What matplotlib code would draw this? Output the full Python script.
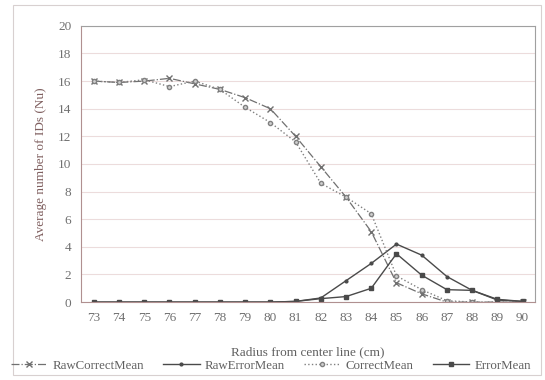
import numpy as np
import matplotlib
matplotlib.use('Agg')
from matplotlib import pyplot as plt
from matplotlib.patches import Rectangle

radius = [73, 74, 75, 76, 77, 78, 79, 80, 81, 82, 83, 84, 85, 86, 87, 88, 89, 90]
raw_correct_mean = [16.0, 15.9, 16.0, 16.2, 15.8, 15.4, 14.8, 14.0, 12.0, 9.8, 7.6, 5.1, 1.4, 0.6, 0.0, 0.0, 0.0, 0.0]
correct_mean = [16.0, 15.9, 16.1, 15.6, 16.0, 15.4, 14.1, 13.0, 11.6, 8.6, 7.6, 6.4, 1.9, 0.9, 0.1, 0.0, 0.0, 0.0]
raw_error_mean = [0, 0, 0, 0, 0, 0, 0, 0, 0.05, 0.3, 1.55, 2.8, 4.2, 3.4, 1.85, 0.85, 0.15, 0.05]
error_mean = [0, 0, 0, 0, 0, 0, 0, 0, 0.05, 0.25, 0.4, 1.0, 3.5, 1.95, 0.9, 0.85, 0.2, 0.05]

plt.rcParams['font.family'] = ['Liberation Serif', 'DejaVu Serif']

fig = plt.figure(figsize=(5.45, 3.8), dpi=100)
ax = fig.add_axes([0.149, 0.205, 0.833, 0.727])

# okvir oko celog grafika
fig.patches.append(Rectangle((0.024, 0.012), 0.968, 0.975, transform=fig.transFigure,
                             fill=False, edgecolor='#d8d0d0', linewidth=0.8))

line_col = '#4a4a4a'
ax.plot(radius, raw_correct_mean, color='#707070', linestyle='-.', linewidth=0.9,
        marker='x', markersize=4, markeredgewidth=1.0, label='RawCorrectMean')
ax.plot(radius, raw_error_mean, color=line_col, linestyle='-', linewidth=1.0,
        marker='.', markersize=4, label='RawErrorMean')
ax.plot(radius, correct_mean, color='#808080', linestyle=':', linewidth=1.0,
        marker='o', markersize=3, markerfacecolor='#d0d0d0', label='CorrectMean')
ax.plot(radius, error_mean, color=line_col, linestyle='-', linewidth=1.0,
        marker='s', markersize=3.5, label='ErrorMean')

ax.set_xlim(72.5, 90.5)
ax.set_ylim(0, 20)
ax.set_xticks(radius)
ax.set_yticks(range(0, 21, 2))
ax.grid(axis='y', color='#ecdcdc', linewidth=0.8)
ax.set_axisbelow(True)

for side in ['left', 'bottom']:
    ax.spines[side].set_color('#b09090')
for side in ['top', 'right']:
    ax.spines[side].set_color('#a0a0a0')
ax.tick_params(length=0, colors='#707070', labelsize=9.5, pad=7)

ax.set_xlabel('Radius from center line (cm)', color='#606060', fontsize=9.5, labelpad=16)
ax.set_ylabel('Average number of IDs (Nu)', color='#806060', fontsize=9.5, labelpad=8)

handles, labels = ax.get_legend_handles_labels()
fig.legend(handles, labels, loc='center', bbox_to_anchor=(0.497, 0.037), ncol=4,
           frameon=False, fontsize=9.3, labelcolor='#606060', handlelength=2.8,
           columnspacing=1.5, handletextpad=0.4, borderaxespad=0, borderpad=0)

plt.savefig('out.png', dpi=100)
